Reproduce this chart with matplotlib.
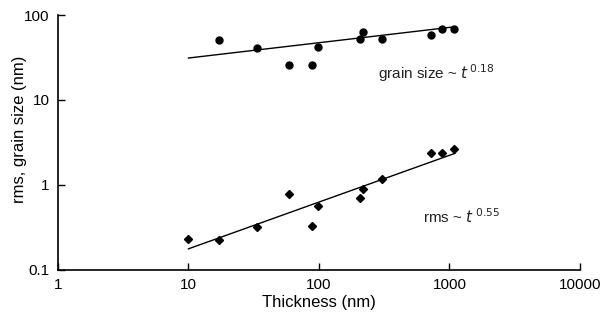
import matplotlib
matplotlib.use("Agg")
import matplotlib.pyplot as plt
from matplotlib.ticker import FixedLocator, FixedFormatter, NullLocator
import numpy as np

plt.rcParams['font.family'] = ['Liberation Sans', 'DejaVu Sans']

# Film thickness (nm) and measured grain size (nm)
grain_t = [17.1, 33.5, 58.9, 88.4, 98.3, 206, 217, 304, 721, 877, 1082]
grain_size = [50.8, 40.9, 25.8, 25.8, 42.0, 52.2, 63.0, 52.0, 58.0, 68.0, 68.0]

# Film thickness (nm) and rms roughness (nm)
rms_t = [10, 17.1, 33.5, 58.9, 88.4, 98.3, 206, 217, 304, 721, 877, 1082]
rms = [0.232, 0.225, 0.321, 0.784, 0.33, 0.566, 0.703, 0.897, 1.18, 2.38, 2.38, 2.65]

# Power-law fits: value = prefactor * t ** exponent
grain_prefactor, grain_exponent = 20.6, 0.18
rms_prefactor, rms_exponent = 0.05, 0.55
fit_range = [10, 1100]

x_ticks = [1, 10, 100, 1000, 10000]
x_tick_labels = ['1', '10', '100', '1000', '10000']
y_ticks = [0.1, 1, 10, 100]
y_tick_labels = ['0.1', '1', '10', '100']

fig = plt.figure(figsize=(6.04, 3.24), dpi=100)
ax = fig.add_axes([0.096, 0.1667, 0.864, 0.787])
ax.set_xscale('log')
ax.set_yscale('log')
ax.set_xlim(1, 10000)
ax.set_ylim(0.1, 100)

tfit = np.logspace(np.log10(fit_range[0]), np.log10(fit_range[1]), 50)
ax.plot(tfit, grain_prefactor * tfit ** grain_exponent, color='black', lw=1.0)
ax.plot(tfit, rms_prefactor * tfit ** rms_exponent, color='black', lw=1.0)

ax.plot(grain_t, grain_size, 'o', color='black', markersize=5, linestyle='none')
ax.plot(rms_t, rms, 'D', color='black', markersize=4.5, linestyle='none')

ax.text(283, 20.8, 'grain size ~ $\\mathit{t}^{\\,0.18}$', fontsize=11, ha='left',
        va='center', color='#222222')
ax.text(626, 0.42, 'rms ~ $\\mathit{t}^{\\;0.55}$', fontsize=11, ha='left',
        va='center', color='#222222')

for s in ['top', 'right']:
    ax.spines[s].set_visible(False)
for s in ['left', 'bottom']:
    ax.spines[s].set_linewidth(1.2)

ax.xaxis.set_major_locator(FixedLocator(x_ticks))
ax.xaxis.set_major_formatter(FixedFormatter(x_tick_labels))
ax.yaxis.set_major_locator(FixedLocator(y_ticks))
ax.yaxis.set_major_formatter(FixedFormatter(y_tick_labels))
ax.xaxis.set_minor_locator(NullLocator())
ax.yaxis.set_minor_locator(NullLocator())
ax.tick_params(direction='in', length=5, width=1, labelsize=11, pad=6)

ax.set_xlabel('Thickness (nm)', fontsize=12, labelpad=2)
ax.set_ylabel('rms, grain size (nm)', fontsize=12)
ax.yaxis.set_label_coords(-0.06, 0.55)

fig.savefig('out.png', dpi=100)
